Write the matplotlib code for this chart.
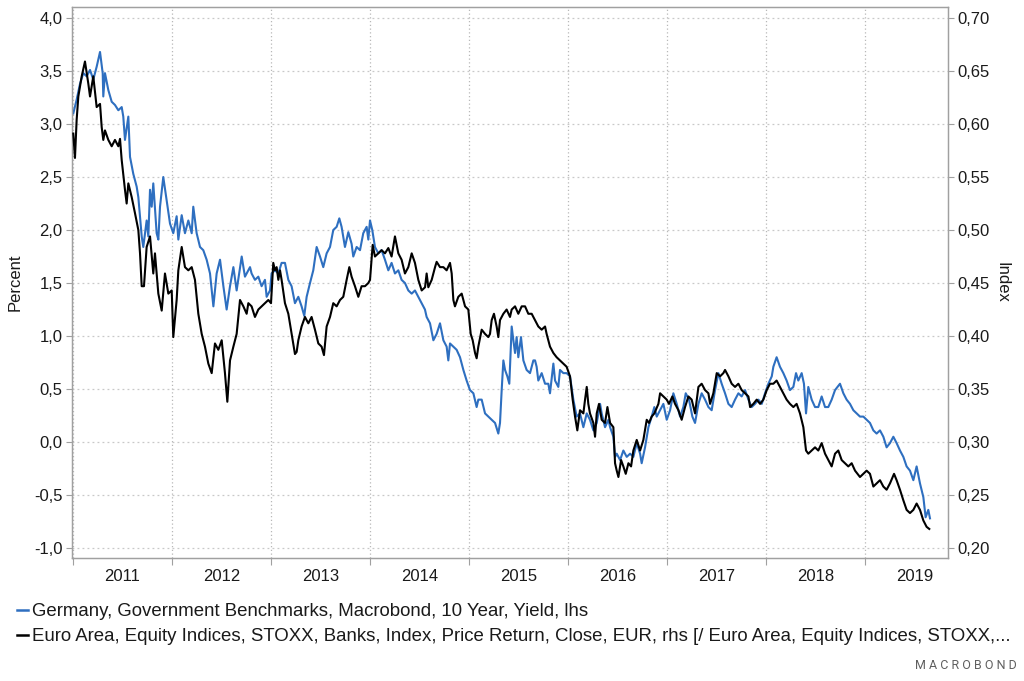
import matplotlib
matplotlib.use("Agg")
import matplotlib.pyplot as plt
from matplotlib.ticker import FixedLocator, FuncFormatter, NullFormatter
from matplotlib.lines import Line2D

plt.rcParams['font.family'] = ['Liberation Sans', 'DejaVu Sans']

# ---- data (decimal years) ----
bund_t = [2011.003, 2011.037, 2011.071, 2011.104, 2011.138, 2011.172, 2011.205, 2011.239, 2011.273, 2011.300,
          2011.306, 2011.323, 2011.357, 2011.391, 2011.424, 2011.458, 2011.492, 2011.508, 2011.525, 2011.559,
          2011.576, 2011.609, 2011.643, 2011.660, 2011.677, 2011.694, 2011.710, 2011.744, 2011.761, 2011.778,
          2011.795, 2011.811, 2011.845, 2011.862, 2011.879, 2011.912, 2011.946, 2011.980, 2012.013, 2012.047,
          2012.064, 2012.098, 2012.131, 2012.165, 2012.199, 2012.215, 2012.249, 2012.283, 2012.316, 2012.350,
          2012.384, 2012.418, 2012.451, 2012.485, 2012.519, 2012.552, 2012.586, 2012.620, 2012.653, 2012.704,
          2012.737, 2012.788, 2012.804, 2012.838, 2012.872, 2012.905, 2012.939, 2012.956, 2012.990, 2013.006,
          2013.040, 2013.074, 2013.107, 2013.141, 2013.175, 2013.208, 2013.242, 2013.276, 2013.309, 2013.336,
          2013.360, 2013.394, 2013.427, 2013.461, 2013.495, 2013.528, 2013.562, 2013.596, 2013.629, 2013.663,
          2013.690, 2013.713, 2013.747, 2013.781, 2013.814, 2013.831, 2013.865, 2013.899, 2013.932, 2013.966,
          2013.983, 2014.000, 2014.023, 2014.050, 2014.084, 2014.117, 2014.151, 2014.185, 2014.218, 2014.252,
          2014.286, 2014.319, 2014.353, 2014.387, 2014.421, 2014.454, 2014.488, 2014.522, 2014.555, 2014.572,
          2014.606, 2014.640, 2014.673, 2014.707, 2014.741, 2014.774, 2014.791, 2014.808, 2014.842, 2014.875,
          2014.909, 2014.943, 2014.976, 2015.010, 2015.044, 2015.077, 2015.094, 2015.128, 2015.162, 2015.195,
          2015.229, 2015.263, 2015.296, 2015.313, 2015.330, 2015.347, 2015.364, 2015.387, 2015.407, 2015.431,
          2015.448, 2015.465, 2015.481, 2015.498, 2015.525, 2015.549, 2015.582, 2015.616, 2015.650, 2015.667,
          2015.683, 2015.700, 2015.734, 2015.768, 2015.801, 2015.818, 2015.852, 2015.869, 2015.902, 2015.919,
          2015.953, 2015.986, 2016.020, 2016.054, 2016.087, 2016.121, 2016.155, 2016.189, 2016.222, 2016.256,
          2016.290, 2016.324, 2016.340, 2016.374, 2016.408, 2016.425, 2016.458, 2016.475, 2016.492, 2016.526,
          2016.559, 2016.593, 2016.627, 2016.660, 2016.694, 2016.728, 2016.744, 2016.778, 2016.812, 2016.845,
          2016.872, 2016.896, 2016.930, 2016.963, 2016.997, 2017.031, 2017.064, 2017.098, 2017.132, 2017.165,
          2017.189, 2017.222, 2017.256, 2017.283, 2017.317, 2017.350, 2017.384, 2017.418, 2017.451, 2017.485,
          2017.519, 2017.552, 2017.586, 2017.620, 2017.653, 2017.687, 2017.721, 2017.754, 2017.788, 2017.822,
          2017.855, 2017.889, 2017.923, 2017.957, 2017.990, 2018.024, 2018.058, 2018.074, 2018.107, 2018.141,
          2018.175, 2018.208, 2018.242, 2018.276, 2018.303, 2018.326, 2018.360, 2018.383, 2018.404, 2018.427,
          2018.461, 2018.495, 2018.528, 2018.562, 2018.596, 2018.629, 2018.663, 2018.697, 2018.747, 2018.781,
          2018.814, 2018.848, 2018.882, 2018.915, 2018.949, 2018.983, 2019.016, 2019.050, 2019.084, 2019.117,
          2019.151, 2019.185, 2019.218, 2019.252, 2019.286, 2019.319, 2019.353, 2019.387, 2019.420, 2019.454,
          2019.488, 2019.521, 2019.555, 2019.589, 2019.612, 2019.639, 2019.656]
bund_yield = [3.10, 3.23, 3.38, 3.48, 3.45, 3.51, 3.42, 3.54, 3.68, 3.48,
              3.26, 3.48, 3.32, 3.21, 3.18, 3.13, 3.16, 3.07, 2.85, 3.07,
              2.69, 2.53, 2.41, 2.31, 2.13, 1.94, 1.84, 2.09, 1.94, 2.38,
              2.22, 2.44, 1.97, 1.91, 2.22, 2.50, 2.28, 2.06, 1.97, 2.13,
              1.91, 2.14, 1.97, 2.09, 1.97, 2.22, 1.97, 1.84, 1.81, 1.72,
              1.59, 1.28, 1.59, 1.72, 1.47, 1.25, 1.47, 1.65, 1.43, 1.75,
              1.56, 1.65, 1.59, 1.53, 1.56, 1.47, 1.53, 1.37, 1.43, 1.59,
              1.62, 1.59, 1.69, 1.69, 1.53, 1.47, 1.31, 1.37, 1.28, 1.19,
              1.37, 1.50, 1.62, 1.84, 1.75, 1.65, 1.78, 1.84, 2.00, 2.03,
              2.11, 2.03, 1.84, 1.98, 1.87, 1.75, 1.84, 1.81, 1.97, 2.03,
              1.91, 2.09, 2.00, 1.84, 1.78, 1.81, 1.72, 1.62, 1.69, 1.59,
              1.62, 1.53, 1.50, 1.43, 1.40, 1.43, 1.37, 1.31, 1.25, 1.18,
              1.12, 0.96, 1.02, 1.12, 0.96, 0.90, 0.77, 0.93, 0.90, 0.87,
              0.80, 0.68, 0.58, 0.49, 0.46, 0.33, 0.40, 0.40, 0.27, 0.24,
              0.21, 0.18, 0.08, 0.18, 0.49, 0.77, 0.68, 0.62, 0.55, 1.09,
              0.96, 0.84, 0.99, 0.80, 0.99, 0.77, 0.68, 0.65, 0.77, 0.77,
              0.71, 0.58, 0.65, 0.55, 0.55, 0.46, 0.74, 0.58, 0.52, 0.68,
              0.65, 0.65, 0.62, 0.40, 0.24, 0.27, 0.14, 0.27, 0.21, 0.11,
              0.18, 0.36, 0.27, 0.14, 0.21, 0.14, 0.05, -0.14, -0.11, -0.17,
              -0.08, -0.14, -0.11, -0.14, -0.01, -0.11, -0.20, -0.05, 0.14, 0.24,
              0.33, 0.24, 0.30, 0.36, 0.21, 0.30, 0.46, 0.36, 0.24, 0.33,
              0.46, 0.40, 0.24, 0.18, 0.36, 0.46, 0.40, 0.33, 0.30, 0.49,
              0.65, 0.55, 0.46, 0.36, 0.33, 0.40, 0.46, 0.43, 0.49, 0.40,
              0.33, 0.36, 0.40, 0.36, 0.46, 0.55, 0.62, 0.71, 0.80, 0.71,
              0.65, 0.58, 0.49, 0.52, 0.65, 0.58, 0.65, 0.55, 0.27, 0.52,
              0.40, 0.33, 0.33, 0.43, 0.33, 0.33, 0.40, 0.49, 0.55, 0.46,
              0.40, 0.36, 0.30, 0.27, 0.24, 0.24, 0.21, 0.18, 0.11, 0.08,
              0.11, 0.05, -0.05, -0.01, 0.05, -0.01, -0.08, -0.14, -0.23, -0.27,
              -0.36, -0.23, -0.39, -0.52, -0.71, -0.64, -0.72]

banks_t = [2011.003, 2011.020, 2011.037, 2011.054, 2011.088, 2011.121, 2011.155, 2011.172, 2011.205, 2011.239,
           2011.273, 2011.290, 2011.306, 2011.323, 2011.357, 2011.391, 2011.424, 2011.458, 2011.475, 2011.492,
           2011.525, 2011.542, 2011.559, 2011.593, 2011.626, 2011.660, 2011.677, 2011.694, 2011.717, 2011.744,
           2011.778, 2011.811, 2011.828, 2011.862, 2011.896, 2011.929, 2011.963, 2011.997, 2012.013, 2012.047,
           2012.064, 2012.098, 2012.131, 2012.165, 2012.199, 2012.232, 2012.266, 2012.300, 2012.333, 2012.367,
           2012.401, 2012.434, 2012.468, 2012.502, 2012.535, 2012.559, 2012.586, 2012.620, 2012.653, 2012.687,
           2012.721, 2012.754, 2012.771, 2012.804, 2012.838, 2012.872, 2012.905, 2012.939, 2012.973, 2013.000,
           2013.023, 2013.040, 2013.057, 2013.074, 2013.091, 2013.107, 2013.141, 2013.175, 2013.208, 2013.242,
           2013.259, 2013.276, 2013.309, 2013.343, 2013.377, 2013.410, 2013.444, 2013.478, 2013.511, 2013.535,
           2013.562, 2013.596, 2013.629, 2013.663, 2013.697, 2013.730, 2013.764, 2013.791, 2013.814, 2013.848,
           2013.882, 2013.915, 2013.949, 2013.983, 2014.000, 2014.027, 2014.050, 2014.084, 2014.117, 2014.151,
           2014.185, 2014.218, 2014.252, 2014.286, 2014.319, 2014.353, 2014.387, 2014.421, 2014.454, 2014.488,
           2014.522, 2014.556, 2014.572, 2014.589, 2014.623, 2014.657, 2014.673, 2014.707, 2014.741, 2014.774,
           2014.808, 2014.825, 2014.842, 2014.858, 2014.892, 2014.926, 2014.960, 2014.993, 2015.017, 2015.037,
           2015.061, 2015.077, 2015.094, 2015.128, 2015.162, 2015.195, 2015.212, 2015.229, 2015.252, 2015.279,
           2015.296, 2015.313, 2015.347, 2015.380, 2015.414, 2015.431, 2015.465, 2015.498, 2015.532, 2015.566,
           2015.599, 2015.633, 2015.667, 2015.700, 2015.734, 2015.768, 2015.784, 2015.818, 2015.852, 2015.885,
           2015.919, 2015.953, 2015.986, 2016.020, 2016.047, 2016.071, 2016.094, 2016.121, 2016.155, 2016.172,
           2016.189, 2016.205, 2016.222, 2016.256, 2016.273, 2016.290, 2016.313, 2016.340, 2016.374, 2016.398,
           2016.425, 2016.458, 2016.475, 2016.492, 2016.509, 2016.536, 2016.559, 2016.583, 2016.610, 2016.637,
           2016.660, 2016.694, 2016.728, 2016.761, 2016.795, 2016.818, 2016.845, 2016.872, 2016.913, 2016.930,
           2016.963, 2016.997, 2017.020, 2017.054, 2017.081, 2017.115, 2017.148, 2017.182, 2017.216, 2017.249,
           2017.283, 2017.317, 2017.350, 2017.384, 2017.418, 2017.435, 2017.468, 2017.502, 2017.536, 2017.569,
           2017.586, 2017.620, 2017.653, 2017.687, 2017.721, 2017.754, 2017.788, 2017.822, 2017.839, 2017.872,
           2017.906, 2017.940, 2017.973, 2018.007, 2018.040, 2018.074, 2018.107, 2018.141, 2018.175, 2018.208,
           2018.242, 2018.276, 2018.309, 2018.343, 2018.377, 2018.404, 2018.427, 2018.461, 2018.495, 2018.528,
           2018.562, 2018.596, 2018.629, 2018.663, 2018.697, 2018.730, 2018.764, 2018.798, 2018.831, 2018.865,
           2018.899, 2018.949, 2018.983, 2019.016, 2019.050, 2019.084, 2019.117, 2019.151, 2019.185, 2019.218,
           2019.252, 2019.293, 2019.319, 2019.353, 2019.387, 2019.420, 2019.454, 2019.488, 2019.521, 2019.555,
           2019.589, 2019.622, 2019.649]
banks_index = [0.591, 0.568, 0.604, 0.626, 0.645, 0.659, 0.638, 0.626, 0.645, 0.616,
               0.619, 0.597, 0.585, 0.594, 0.585, 0.579, 0.585, 0.579, 0.586, 0.566,
               0.538, 0.525, 0.544, 0.531, 0.516, 0.500, 0.478, 0.447, 0.447, 0.484,
               0.494, 0.459, 0.478, 0.440, 0.424, 0.459, 0.440, 0.443, 0.399, 0.434,
               0.462, 0.484, 0.465, 0.462, 0.465, 0.453, 0.421, 0.402, 0.390, 0.374,
               0.365, 0.393, 0.387, 0.396, 0.365, 0.338, 0.377, 0.390, 0.402, 0.434,
               0.428, 0.421, 0.431, 0.428, 0.418, 0.425, 0.428, 0.431, 0.434, 0.431,
               0.469, 0.462, 0.465, 0.453, 0.462, 0.453, 0.431, 0.421, 0.402, 0.383,
               0.385, 0.396, 0.409, 0.418, 0.412, 0.418, 0.406, 0.393, 0.390, 0.382,
               0.409, 0.418, 0.431, 0.428, 0.434, 0.437, 0.453, 0.465, 0.456, 0.447,
               0.437, 0.447, 0.447, 0.450, 0.453, 0.486, 0.475, 0.478, 0.481, 0.478,
               0.483, 0.475, 0.494, 0.478, 0.472, 0.459, 0.465, 0.478, 0.469, 0.453,
               0.443, 0.446, 0.459, 0.446, 0.453, 0.465, 0.470, 0.465, 0.465, 0.462,
               0.469, 0.459, 0.434, 0.428, 0.437, 0.440, 0.428, 0.425, 0.402, 0.396,
               0.384, 0.379, 0.390, 0.406, 0.402, 0.399, 0.402, 0.415, 0.421, 0.409,
               0.399, 0.415, 0.421, 0.425, 0.418, 0.425, 0.428, 0.421, 0.428, 0.428,
               0.421, 0.421, 0.415, 0.409, 0.406, 0.409, 0.402, 0.390, 0.384, 0.380,
               0.377, 0.374, 0.371, 0.362, 0.340, 0.324, 0.311, 0.330, 0.327, 0.340,
               0.352, 0.336, 0.327, 0.318, 0.305, 0.327, 0.336, 0.321, 0.318, 0.333,
               0.318, 0.314, 0.280, 0.273, 0.267, 0.283, 0.277, 0.270, 0.280, 0.277,
               0.292, 0.302, 0.292, 0.302, 0.321, 0.318, 0.324, 0.327, 0.336, 0.346,
               0.343, 0.340, 0.336, 0.343, 0.336, 0.330, 0.321, 0.333, 0.343, 0.340,
               0.327, 0.352, 0.355, 0.349, 0.346, 0.336, 0.346, 0.365, 0.362, 0.365,
               0.368, 0.362, 0.355, 0.352, 0.355, 0.349, 0.346, 0.343, 0.333, 0.336,
               0.340, 0.336, 0.340, 0.349, 0.355, 0.355, 0.358, 0.352, 0.346, 0.340,
               0.336, 0.333, 0.336, 0.327, 0.314, 0.292, 0.289, 0.292, 0.295, 0.292,
               0.299, 0.289, 0.283, 0.277, 0.289, 0.292, 0.283, 0.280, 0.277, 0.280,
               0.273, 0.267, 0.270, 0.273, 0.270, 0.258, 0.261, 0.264, 0.258, 0.255,
               0.261, 0.270, 0.264, 0.255, 0.245, 0.236, 0.233, 0.236, 0.242, 0.236,
               0.226, 0.220, 0.218]

years = [2011, 2012, 2013, 2014, 2015, 2016, 2017, 2018, 2019]
left_ticks = [-1.0, -0.5, 0.0, 0.5, 1.0, 1.5, 2.0, 2.5, 3.0, 3.5, 4.0]
right_ticks = [0.20, 0.25, 0.30, 0.35, 0.40, 0.45, 0.50, 0.55, 0.60, 0.65, 0.70]

label_blue = "Germany, Government Benchmarks, Macrobond, 10 Year, Yield, lhs"
label_black = ("Euro Area, Equity Indices, STOXX, Banks, Index, Price Return, Close, EUR, rhs "
               "[/ Euro Area, Equity Indices, STOXX,...")

BLUE = "#2E6FC0"
GRAY = "#A0A0A0"
TXT = "#1a1a1a"

fig = plt.figure(figsize=(10.24, 6.81), dpi=100)
ax = fig.add_axes([72/1024, 1-558/681, 876/1024, 551/681])
ax2 = ax.twinx()

ylo, yhi = -1.094, 4.104
ax.set_ylim(ylo, yhi)
ax2.set_ylim(0.3 + ylo/10, 0.3 + yhi/10)
ax.set_xlim(2010.99, 2019.838)

ax.plot(bund_t, bund_yield, color=BLUE, lw=1.5, zorder=3)
ax2.plot(banks_t, banks_index, color="black", lw=1.5, zorder=3)

fmt1 = FuncFormatter(lambda v, p: f"{v:.1f}".replace(".", ","))
fmt2 = FuncFormatter(lambda v, p: f"{v:.2f}".replace(".", ","))
ax.yaxis.set_major_locator(FixedLocator(left_ticks))
ax.yaxis.set_major_formatter(fmt1)
ax2.yaxis.set_major_locator(FixedLocator(right_ticks))
ax2.yaxis.set_major_formatter(fmt2)

ax.xaxis.set_major_locator(FixedLocator(years))
ax.xaxis.set_major_formatter(NullFormatter())
ax.xaxis.set_minor_locator(FixedLocator([y + 0.5 for y in years]))
ax.xaxis.set_minor_formatter(FuncFormatter(lambda v, p: str(int(v))))
ax.tick_params(axis='x', which='major', length=5, width=0.8, color=GRAY, direction='out')
ax.tick_params(axis='x', which='minor', length=0, labelsize=12, colors=TXT, pad=8)
ax.tick_params(axis='y', length=4, width=0.8, color=GRAY, labelsize=12, labelcolor=TXT, pad=3)
ax2.tick_params(axis='y', length=4, width=0.8, color=GRAY, labelsize=12, labelcolor=TXT, pad=3)

ax.grid(True, axis='y', which='major', color="#C8C8C8", linestyle=(0, (1.5, 2.5)), lw=0.9)
ax.grid(True, axis='x', which='major', color="#B8B8B8", linestyle=(0, (1, 2)), lw=0.9)
ax.set_axisbelow(True)

for a in (ax, ax2):
    for s in a.spines.values():
        s.set_color(GRAY)
        s.set_linewidth(0.9)

ax.set_ylabel("Percent", fontsize=12, color=TXT, labelpad=8)
ax2.set_ylabel("Index", fontsize=12, color=TXT, rotation=270, labelpad=14)

handles = [Line2D([], [], color=BLUE, lw=1.8), Line2D([], [], color="black", lw=1.8)]
fig.legend(handles, [label_blue, label_black], loc='upper left',
           bbox_to_anchor=(0.017, 0.114), frameon=False, fontsize=13.4,
           handlelength=0.55, handletextpad=0.25, labelspacing=0.42,
           borderaxespad=0, borderpad=0, labelcolor=TXT)

fig.text(0.993, 0.023, "M A C R O B O N D", ha='right', va='center', fontsize=9,
         color="#606060", family=['Roboto', 'DejaVu Sans'])

fig.savefig("out.png", dpi=100)
